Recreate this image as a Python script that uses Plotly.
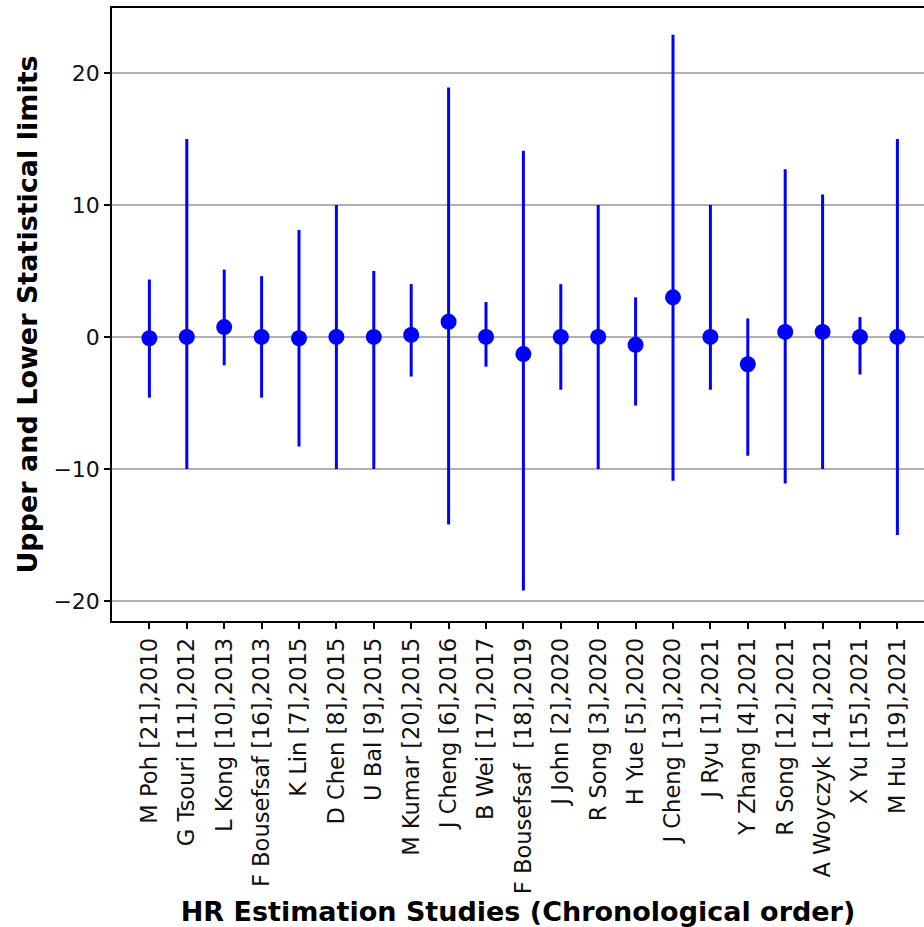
import plotly.graph_objects as go

studies = [
    "M Poh [21],2010", "G Tsouri [11],2012", "L Kong [10],2013", "F Bousefsaf [16],2013",
    "K Lin [7],2015", "D Chen [8],2015", "U Bal [9],2015", "M Kumar [20],2015",
    "J Cheng [6],2016", "B Wei [17],2017", "F Bousefsaf\u00a0 [18],2019", "J John [2],2020",
    "R Song [3],2020", "H Yue [5],2020", "J Cheng [13],2020", "J Ryu [1],2021",
    "Y Zhang [4],2021", "R Song [12],2021", "A Woyczyk [14],2021", "X Yu [15],2021",
    "M Hu [19],2021",
]
mean_vals = [-0.1, 0.0, 0.75, 0.0, -0.1, 0.0, 0.0, 0.15, 1.15, 0.0, -1.3, 0.0,
             0.0, -0.6, 3.0, 0.0, -2.07, 0.38, 0.38, 0.0, 0.0]
upper_vals = [4.35, 15.0, 5.1, 4.6, 8.1, 10.0, 5.0, 4.0, 18.9, 2.65, 14.1, 4.0,
              10.0, 3.0, 22.9, 10.0, 1.4, 12.7, 10.8, 1.5, 15.0]
lower_vals = [-4.6, -10.0, -2.15, -4.6, -8.3, -10.0, -10.0, -3.0, -14.2, -2.25, -19.2, -4.0,
              -10.0, -5.2, -10.9, -4.0, -9.0, -11.1, -10.0, -2.85, -15.0]
y_ticks = [-20, -10, 0, 10, 20]

x_idx = list(range(len(studies)))
err_plus = [u - m for u, m in zip(upper_vals, mean_vals)]
err_minus = [m - l for m, l in zip(mean_vals, lower_vals)]

fig = go.Figure()
fig.add_trace(go.Scatter(
    x=x_idx, y=mean_vals, mode="markers",
    marker=dict(color="#0000ff", size=16),
    error_y=dict(type="data", symmetric=False, array=err_plus, arrayminus=err_minus,
                 color="#0000ff", thickness=3, width=0),
    showlegend=False,
))

font_family = "DejaVu Sans"
fig.update_layout(
    width=924, height=927,
    margin=dict(l=112, r=0, t=8, b=306),
    plot_bgcolor="white", paper_bgcolor="white",
    font=dict(family=font_family, color="black", size=22),
)
fig.update_xaxes(
    range=[-1, -1 + (924 - 112) / 37.4],
    tickvals=x_idx, ticktext=studies, tickangle=-90,
    tickfont=dict(size=22.6, color="#111111"),
    showgrid=False, zeroline=False,
    showline=True, linecolor="black", linewidth=1.5, mirror=True,
    ticks="outside", ticklen=6, tickwidth=1.5, tickcolor="black",
    title=dict(text="<b>HR Estimation Studies (Chronological order)</b>",
               font=dict(size=27, color="black"), standoff=9),
    automargin=False,
)
fig.update_yaxes(
    range=[-21.52, 24.92],
    tickvals=y_ticks,
    tickfont=dict(size=22, color="#111111"),
    showgrid=True, gridcolor="#b0b0b0", gridwidth=1.5,
    zeroline=False,
    showline=True, linecolor="black", linewidth=1.5, mirror=False,
    ticks="outside", ticklen=6, tickwidth=1.5, tickcolor="black",
    title=dict(text="<b>Upper and Lower Statistical limits</b>",
               font=dict(size=27, color="black"), standoff=8),
    automargin=False,
)

fig.write_html("out.html")
